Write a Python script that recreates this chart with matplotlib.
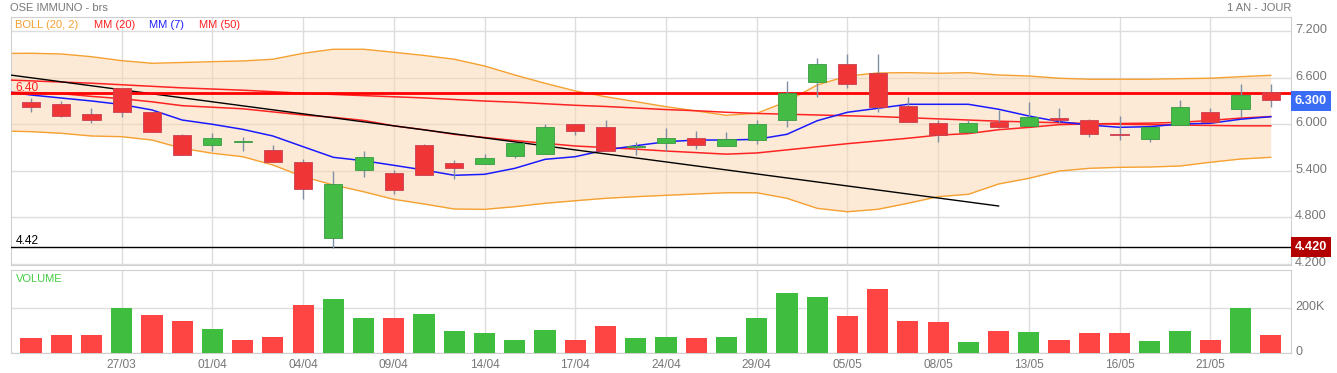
import numpy as np
import matplotlib.pyplot as plt
import matplotlib.transforms as mtrans

plt.rcParams['font.family'] = ['Liberation Sans', 'DejaVu Sans']

# daily candles (index 0..41)
opens = [6.284, 6.258, 6.129, 6.465, 6.155, 5.862, 5.733, 5.776, 5.665, 5.514,
         4.538, 5.406, 5.368, 5.729, 5.497, 5.493, 5.596, 5.62, 6.0, 5.966,
         5.703, 5.755, 5.819, 5.725, 5.794, 6.052, 6.542, 6.774, 6.658, 6.232,
         6.013, 5.905, 6.026, 5.983, 6.077, 6.052, 5.875, 5.81, 5.996, 6.159,
         6.202, 6.421]
highs = [6.335, 6.30, 6.206, 6.47, 6.16, 5.88, 5.892, 5.83, 5.733, 5.553,
         5.40, 5.66, 5.41, 5.746, 5.54, 5.617, 5.759, 6.0, 6.0, 6.056,
         5.768, 5.953, 5.914, 5.90, 6.056, 6.56, 6.85, 6.908, 6.908, 6.353,
         6.056, 6.056, 6.185, 6.288, 6.21, 6.065, 6.108, 5.97, 6.314, 6.206,
         6.52, 6.52]
lows = [6.163, 6.10, 6.02, 6.10, 5.90, 5.609, 5.66, 5.66, 5.51, 5.04,
        4.41, 5.325, 5.105, 5.35, 5.30, 5.493, 5.57, 5.62, 5.867, 5.656,
        5.604, 5.66, 5.677, 5.725, 5.75, 5.97, 6.357, 6.473, 6.163, 6.026,
        5.776, 5.884, 5.948, 5.983, 6.013, 5.84, 5.798, 5.768, 5.996, 6.034,
        6.10, 6.228]
closes = [6.228, 6.103, 6.052, 6.155, 5.905, 5.609, 5.819, 5.776, 5.51, 5.161,
          5.226, 5.574, 5.148, 5.35, 5.432, 5.566, 5.759, 5.966, 5.91, 5.656,
          5.72, 5.824, 5.729, 5.81, 6.0, 6.409, 6.774, 6.516, 6.228, 6.026,
          5.862, 6.013, 5.97, 6.09, 6.056, 5.871, 5.865, 5.97, 6.224, 6.034,
          6.378, 6.31]
prev_close = 6.30
volumes_k = [65, 80, 78, 200, 168, 141, 105, 60, 71, 215,
             241, 155, 155, 173, 96, 87, 60, 102, 57, 120,
             65, 72, 68, 69, 155, 265, 250, 164, 283, 144,
             137, 51, 99, 93, 59, 89, 89, 54, 98, 57,
             200, 80]

tick_idx = [3, 6, 9, 12, 15, 18, 21, 24, 27, 30, 33, 36, 39]
tick_labels = ['27/03', '01/04', '04/04', '09/04', '14/04', '17/04', '24/04',
               '29/04', '05/05', '08/05', '13/05', '16/05', '21/05']

# indicators, index -1..41
boll_up = [6.914, 6.916, 6.907, 6.872, 6.821, 6.787, 6.797, 6.808, 6.817, 6.839,
           6.916, 6.968, 6.968, 6.929, 6.888, 6.839, 6.752, 6.636, 6.529, 6.430,
           6.356, 6.292, 6.227, 6.172, 6.116, 6.142, 6.292, 6.507, 6.623, 6.662,
           6.666, 6.658, 6.666, 6.636, 6.623, 6.594, 6.581, 6.581, 6.581, 6.588,
           6.594, 6.614, 6.632]
boll_low = [5.914, 5.905, 5.884, 5.849, 5.840, 5.797, 5.690, 5.626, 5.582, 5.475,
            5.324, 5.217, 5.130, 5.032, 4.972, 4.907, 4.903, 4.937, 4.981, 5.014,
            5.045, 5.066, 5.084, 5.101, 5.117, 5.117, 5.045, 4.916, 4.872, 4.903,
            4.981, 5.066, 5.097, 5.230, 5.303, 5.397, 5.432, 5.445, 5.449, 5.462,
            5.510, 5.552, 5.574]
mm20 = [6.414, 6.41, 6.395, 6.36, 6.33, 6.29, 6.24, 6.22, 6.20, 6.16,
        6.12, 6.09, 6.05, 5.98, 5.93, 5.87, 5.83, 5.79, 5.755, 5.72,
        5.70, 5.68, 5.655, 5.635, 5.615, 5.63, 5.67, 5.71, 5.75, 5.785,
        5.82, 5.86, 5.88, 5.93, 5.96, 5.995, 6.005, 6.01, 6.015, 6.025,
        6.05, 6.08, 6.10]
mm7 = [6.43, 6.378, 6.339, 6.301, 6.255, 6.185, 6.055, 6.000, 5.935, 5.849,
       5.711, 5.574, 5.530, 5.471, 5.410, 5.342, 5.355, 5.432, 5.548, 5.582,
       5.668, 5.724, 5.775, 5.797, 5.797, 5.806, 5.871, 6.046, 6.155, 6.206,
       6.258, 6.258, 6.258, 6.194, 6.107, 6.034, 5.991, 5.961, 5.969, 6.004,
       6.013, 6.065, 6.098]
mm50 = [6.575, 6.56, 6.545, 6.53, 6.51, 6.49, 6.47, 6.455, 6.44, 6.42,
        6.40, 6.385, 6.37, 6.355, 6.34, 6.32, 6.30, 6.285, 6.265, 6.245,
        6.23, 6.21, 6.19, 6.175, 6.155, 6.14, 6.13, 6.12, 6.11, 6.10,
        6.085, 6.07, 6.055, 6.04, 6.03, 6.02, 6.01, 6.0, 5.995, 5.99,
        5.985, 5.98, 5.98]
trend_x = [-1, 32]
trend_y = [6.652, 4.946]
resist = 6.40
support = 4.42
last_price = 6.30

GREEN = '#44bb44'
RED = '#ef3535'
GRID = '#dddddd'
TXT = '#777777'

n = len(opens)
x = np.arange(n)
xi = np.arange(-1, n)
o = np.array(opens); c = np.array(closes)
h = np.array(highs); l = np.array(lows)
up = c >= o
prev = np.concatenate([[prev_close], c[:-1]])
vol_up = c >= prev

fig = plt.figure(figsize=(13.37, 3.73), dpi=100)
W, H = 1337, 373
ax = fig.add_axes([11 / W, (H - 265) / H, 1280 / W, 248 / H])
axv = fig.add_axes([11 / W, (H - 353) / H, 1280 / W, 83 / H])

xlim = (-0.661, 41.67)
lift = mtrans.ScaledTranslation(0, 2 / 72, fig.dpi_scale_trans)

# price panel
ax.fill_between(xi, boll_low, boll_up, color='#fbd7ae', alpha=0.5, lw=0, zorder=1)
ax.plot(xi, boll_up, color='#f5a030', lw=1, zorder=2)
ax.plot(xi, boll_low, color='#f5a030', lw=1, zorder=2)
ax.plot(xi, mm50, color='#ff2222', lw=1.1, zorder=3)
ax.plot(xi, mm20, color='#ff2222', lw=1.1, zorder=3)
ax.plot(xi, mm7, color='#1a1aff', lw=1.1, zorder=3)
ax.plot(trend_x, trend_y, color='black', lw=1, zorder=3)
ax.axhline(resist, color='#ff0000', lw=2, zorder=4)
ax.axhline(support, color='black', lw=1, zorder=4)

ax.vlines(x, l, h, color='#8090a4', lw=1, zorder=5)
body_bot = np.minimum(o, c)
body_h = np.maximum(np.abs(c - o), 0.008)
ax.bar(x, body_h, bottom=body_bot, width=0.6,
       color=[GREEN if u else RED for u in up],
       edgecolor=['#3a9a44' if u else '#c84050' for u in up], lw=0.6, zorder=6)

ax.set_xlim(*xlim)
ax.set_ylim(4.185, 7.384)
ax.set_yticks([4.2, 4.8, 5.4, 6.0, 6.6, 7.2])
ax.set_yticklabels(['%.3f' % v for v in [4.2, 4.8, 5.4, 6.0, 6.6, 7.2]])
ax.yaxis.tick_right()
ax.set_xticks(tick_idx)
ax.set_xticklabels([])
ax.tick_params(length=0, labelsize=9.2, labelcolor=TXT, pad=3)
for lab in ax.get_yticklabels():
    lab.set_transform(lab.get_transform() + lift)
ax.grid(True, color=GRID, lw=1, zorder=0)
ax.set_axisbelow(True)
for s in ax.spines.values():
    s.set_color('#d0d0d0')

tr = mtrans.blended_transform_factory(ax.transAxes, ax.transData)
ax.text(0.0035, resist + 0.035, '%.2f' % resist, color='#ff2020', fontsize=8.6,
        transform=tr)
ax.text(0.0035, support + 0.035, '%.2f' % support, color='black', fontsize=8.6,
        transform=tr)

ax.text(1.003, last_price, '%.3f' % last_price, transform=tr, color='white',
        fontsize=9.2, fontweight='bold', va='center', ha='left',
        bbox=dict(boxstyle='square,pad=0.33', fc='#3a6cf6', ec='none'))
ax.text(1.003, support, '%.3f' % support, transform=tr, color='white',
        fontsize=9.2, fontweight='bold', va='center', ha='left',
        bbox=dict(boxstyle='square,pad=0.33', fc='#b30000', ec='none'))

# legend line
leg = [('BOLL (20, 2)', '#f5a030', 15), ('MM (20)', '#ff2020', 94),
       ('MM (7)', '#2020ff', 149), ('MM (50)', '#ff2020', 199)]
for txt, col, px in leg:
    fig.text(px / W, (H - 25) / H, txt, color=col, fontsize=8, va='center')

fig.text(10 / W, (H - 8) / H, 'OSE IMMUNO - brs', color=TXT, fontsize=8, va='center')
fig.text(1291 / W, (H - 8) / H, '1 AN - JOUR', color=TXT, fontsize=8,
         va='center', ha='right')

# volume panel
axv.bar(x, volumes_k, width=0.7, color=['#3fbd3f' if u else '#ff4444' for u in vol_up],
        zorder=3)
axv.set_xlim(*xlim)
axv.set_ylim(0, 369)
axv.set_yticks([0, 200])
axv.set_yticklabels(['0', '200K'])
axv.yaxis.tick_right()
axv.set_xticks(tick_idx)
axv.set_xticklabels(tick_labels)
axv.tick_params(length=0, labelsize=9, labelcolor=TXT, pad=3)
axv.tick_params(axis='x', labelsize=8.6, pad=4)
for lab in axv.get_yticklabels():
    lab.set_transform(lab.get_transform() + lift)
axv.grid(True, color=GRID, lw=1, zorder=0)
axv.set_axisbelow(True)
for s in axv.spines.values():
    s.set_color('#d0d0d0')
axv.text(0.0035, 0.89, 'VOLUME', transform=axv.transAxes, color='#44cc44',
         fontsize=8, va='center')

fig.savefig('out.png', dpi=100)
